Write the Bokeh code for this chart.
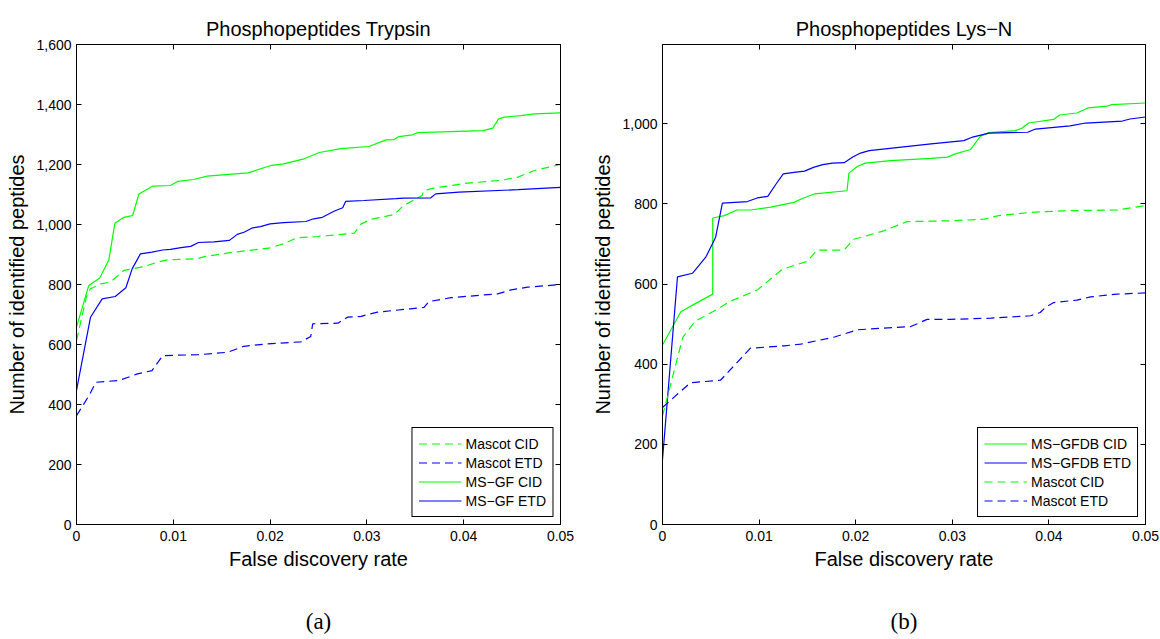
from bokeh.plotting import figure
from bokeh.models import Range1d, FixedTicker, NumeralTickFormatter, LinearAxis, Legend, LegendItem
from bokeh.layouts import row
from bokeh.embed import file_html
from bokeh.resources import INLINE

# ---------------- data ----------------
x_ticks = [0, 0.01, 0.02, 0.03, 0.04, 0.05]
x_tick_labels = ["0", "0.01", "0.02", "0.03", "0.04", "0.05"]
y_ticks_a = [0, 200, 400, 600, 800, 1000, 1200, 1400, 1600]
y_ticks_b = [0, 200, 400, 600, 800, 1000]

# (a) Trypsin
a_msgf_cid_x = [0, 0.00127, 0.0024, 0.00334, 0.00396, 0.0049, 0.0058, 0.00645, 0.0079, 0.0097, 0.0105,
                0.0121, 0.0135, 0.0177, 0.02, 0.0214, 0.0235, 0.0251, 0.0273, 0.0302, 0.032, 0.0328,
                0.0333, 0.0347, 0.0352, 0.042, 0.043, 0.0436, 0.0442, 0.0459, 0.0473, 0.05]
a_msgf_cid_y = [658, 797, 822, 882, 1004, 1024, 1030, 1102, 1128, 1130, 1144,
                1150, 1161, 1172, 1196, 1202, 1219, 1240, 1253, 1260, 1282, 1283,
                1293, 1299, 1306, 1313, 1321, 1352, 1358, 1363, 1369, 1372]

a_msgf_etd_x = [0, 0.00145, 0.00265, 0.004, 0.0051, 0.00575, 0.0066, 0.0078, 0.0089, 0.0097, 0.0108,
                0.0118, 0.0126, 0.0142, 0.0158, 0.0166, 0.0173, 0.0182, 0.019, 0.02, 0.0214, 0.0237,
                0.0245, 0.0254, 0.0266, 0.0275, 0.0278, 0.0297, 0.033, 0.0338, 0.0366, 0.0371,
                0.0395, 0.0456, 0.05]
a_msgf_etd_y = [447, 691, 752, 760, 789, 852, 902, 908, 915, 917, 923,
                927, 940, 942, 947, 967, 974, 989, 993, 1002, 1006, 1010,
                1019, 1024, 1044, 1056, 1077, 1080, 1086, 1088, 1089, 1102,
                1108, 1116, 1124]

a_mascot_cid_x = [0, 0.0011, 0.00145, 0.0025, 0.0035, 0.0049, 0.00575, 0.007, 0.0083, 0.0094, 0.0125,
                  0.0132, 0.0159, 0.02, 0.0214, 0.0228, 0.0249, 0.0287, 0.0294, 0.0304, 0.0328,
                  0.0338, 0.0357, 0.0359, 0.037, 0.0404, 0.0438, 0.0456, 0.0473, 0.05]
a_mascot_cid_y = [613, 769, 786, 802, 808, 847, 852, 860, 874, 882, 886,
                  893, 906, 922, 936, 956, 960, 971, 1002, 1017, 1033,
                  1063, 1097, 1113, 1122, 1138, 1147, 1158, 1180, 1200]

a_mascot_etd_x = [0, 0.0013, 0.002, 0.0044, 0.0063, 0.0078, 0.0089, 0.0126, 0.0156, 0.0173, 0.0197,
                  0.0232, 0.0242, 0.0244, 0.027, 0.028, 0.0294, 0.0311, 0.0345, 0.0359, 0.0364,
                  0.0387, 0.0435, 0.0449, 0.0466, 0.05]
a_mascot_etd_y = [363, 430, 474, 480, 502, 513, 563, 566, 574, 594, 602,
                  609, 627, 669, 671, 691, 694, 708, 719, 724, 743,
                  756, 769, 782, 791, 800]

# (b) Lys-N
b_msgfdb_cid_x = [0, 0.0019, 0.0033, 0.0052, 0.0052, 0.0064, 0.0077, 0.0091, 0.0112, 0.0136, 0.0146,
                  0.0157, 0.0191, 0.0193, 0.0202, 0.021, 0.0236, 0.0278, 0.0295, 0.0303, 0.0319,
                  0.0329, 0.0338, 0.0365, 0.0372, 0.0379, 0.0405, 0.0411, 0.0429, 0.0441, 0.046,
                  0.0465, 0.05]
b_msgfdb_cid_y = [448, 531, 550, 575, 765, 771, 785, 785, 792, 804, 815,
                  825, 833, 877, 894, 902, 908, 914, 917, 925, 936,
                  969, 978, 983, 989, 1002, 1011, 1022, 1027, 1040, 1044,
                  1048, 1052]

b_msgfdb_etd_x = [0, 0.00155, 0.0031, 0.0045, 0.0055, 0.0062, 0.0088, 0.0098, 0.0109, 0.0117, 0.0125,
                  0.0136, 0.0147, 0.0157, 0.0166, 0.0176, 0.0188, 0.0197, 0.0205, 0.0214, 0.0278,
                  0.0312, 0.0321, 0.0338, 0.0378, 0.0386, 0.0422, 0.0438, 0.0476, 0.0484, 0.05]
b_msgfdb_etd_y = [162, 618, 627, 668, 717, 802, 806, 815, 819, 848, 875,
                  879, 882, 892, 898, 902, 903, 917, 927, 933, 950,
                  958, 967, 977, 979, 987, 995, 1002, 1007, 1012, 1017]

b_mascot_cid_x = [0, 0.0021, 0.0034, 0.0052, 0.0071, 0.0098, 0.0124, 0.015, 0.016, 0.0188, 0.0198,
                  0.0212, 0.0229, 0.0253, 0.0298, 0.0333, 0.0348, 0.0381, 0.0415, 0.0471, 0.05]
b_mascot_cid_y = [271, 467, 508, 531, 558, 585, 637, 657, 685, 685, 712,
                  721, 733, 756, 758, 762, 771, 779, 783, 785, 796]

b_mascot_etd_x = [0, 0.0019, 0.0029, 0.006, 0.0091, 0.0126, 0.0143, 0.0178, 0.0202, 0.0229, 0.0257,
                  0.0274, 0.0298, 0.034, 0.0381, 0.0391, 0.0397, 0.0405, 0.0429, 0.0443, 0.047, 0.05]
b_mascot_etd_y = [292, 333, 354, 360, 440, 446, 450, 468, 486, 490, 494,
                  512, 512, 515, 521, 529, 543, 554, 560, 568, 575, 578]

# ---------------- styling ----------------
FONT = "Liberation Sans"
GREEN = "#00ff00"
BLUE = "#0000ff"
DASH = "8 5"
LW = 1.2


def style_axis(ax, show_labels=True):
    ax.axis_line_color = "black"
    ax.axis_line_width = 1
    ax.major_tick_in = 5
    ax.major_tick_out = 0
    ax.major_tick_line_color = "black"
    ax.minor_tick_line_color = None
    if show_labels:
        ax.major_label_text_font = FONT
        ax.major_label_text_font_size = "14px"
        ax.major_label_text_color = "black"
        ax.major_label_standoff = 5
    else:
        ax.major_label_text_font_size = "1px"
        ax.major_label_text_color = None
        ax.major_label_standoff = 0


def make_fig(title, caption, ymax, yticks, bl, br, width):
    p = figure(width=width, height=639, output_backend="svg", toolbar_location=None,
               x_range=Range1d(0, 0.05), y_range=Range1d(0, ymax), title=title,
               min_border_left=bl, min_border_right=br, min_border_top=44, min_border_bottom=115)
    p.title.align = "center"
    p.title.text_font = FONT
    p.title.text_font_size = "20px"
    p.title.text_font_style = "normal"
    p.title.text_color = "black"
    p.grid.visible = False
    p.outline_line_color = "black"
    p.outline_line_width = 1
    p.outline_line_alpha = 1
    p.background_fill_color = "white"
    p.border_fill_color = "white"

    p.xaxis.ticker = FixedTicker(ticks=x_ticks)
    p.xaxis.major_label_overrides = {t: l for t, l in zip(x_ticks, x_tick_labels)}
    p.yaxis.ticker = FixedTicker(ticks=yticks)
    p.yaxis.formatter = NumeralTickFormatter(format="0,0")
    for ax in p.xaxis + p.yaxis:
        style_axis(ax)
    p.xaxis.major_label_standoff = 6
    p.xaxis.axis_label = "False discovery rate"
    p.yaxis.axis_label = "Number of identified peptides"
    for ax in p.xaxis + p.yaxis:
        ax.axis_label_text_font = FONT
        ax.axis_label_text_font_size = "20px"
        ax.axis_label_text_font_style = "normal"
        ax.axis_label_text_color = "black"
    p.xaxis.axis_label_standoff = 4
    p.yaxis.axis_label_standoff = 5

    top = LinearAxis(ticker=FixedTicker(ticks=x_ticks))
    style_axis(top, show_labels=False)
    p.add_layout(top, "above")
    right = LinearAxis(ticker=FixedTicker(ticks=yticks))
    style_axis(right, show_labels=False)
    p.add_layout(right, "right")

    # caption "(a)" / "(b)" as the label of a bare axis stacked under the x axis
    cap = LinearAxis(ticker=FixedTicker(ticks=[]), axis_label=caption)
    cap.axis_line_color = None
    cap.major_tick_line_color = None
    cap.minor_tick_line_color = None
    cap.major_tick_in = 0
    cap.major_tick_out = 0
    cap.major_label_text_font_size = "1px"
    cap.major_label_text_color = None
    cap.major_label_standoff = 0
    cap.axis_label_text_font = "Liberation Serif"
    cap.axis_label_text_font_size = "23px"
    cap.axis_label_text_font_style = "normal"
    cap.axis_label_text_color = "black"
    cap.axis_label_standoff = 36
    p.add_layout(cap, "below")
    return p


def add_legend(p, items):
    leg = Legend(items=items, location="bottom_right")
    leg.border_line_color = "black"
    leg.border_line_width = 1
    leg.border_line_alpha = 1
    leg.background_fill_color = "white"
    leg.background_fill_alpha = 1
    leg.label_text_font = FONT
    leg.label_text_font_size = "14px"
    leg.label_text_color = "black"
    leg.glyph_width = 43
    leg.glyph_height = 19
    leg.label_height = 19
    leg.spacing = 0
    leg.padding = 6
    leg.margin = 7
    leg.label_standoff = 4
    p.add_layout(leg)


# (a)
pa = make_fig("Phosphopeptides Trypsin", "(a)", 1600, y_ticks_a, 76, 20, 580)
ra1 = pa.line(a_mascot_cid_x, a_mascot_cid_y, line_color=GREEN, line_width=LW, line_dash=DASH)
ra2 = pa.line(a_mascot_etd_x, a_mascot_etd_y, line_color=BLUE, line_width=LW, line_dash=DASH)
ra3 = pa.line(a_msgf_cid_x, a_msgf_cid_y, line_color=GREEN, line_width=LW)
ra4 = pa.line(a_msgf_etd_x, a_msgf_etd_y, line_color=BLUE, line_width=LW)
add_legend(pa, [LegendItem(label="Mascot CID", renderers=[ra1]),
                LegendItem(label="Mascot ETD", renderers=[ra2]),
                LegendItem(label="MS\u2212GF CID", renderers=[ra3]),
                LegendItem(label="MS\u2212GF ETD", renderers=[ra4])])

# (b)
pb = make_fig("Phosphopeptides Lys\u2212N", "(b)", 1198, y_ticks_b, 82, 15, 580)
rb1 = pb.line(b_msgfdb_cid_x, b_msgfdb_cid_y, line_color=GREEN, line_width=LW)
rb2 = pb.line(b_msgfdb_etd_x, b_msgfdb_etd_y, line_color=BLUE, line_width=LW)
rb3 = pb.line(b_mascot_cid_x, b_mascot_cid_y, line_color=GREEN, line_width=LW, line_dash=DASH)
rb4 = pb.line(b_mascot_etd_x, b_mascot_etd_y, line_color=BLUE, line_width=LW, line_dash=DASH)
add_legend(pb, [LegendItem(label="MS\u2212GFDB CID", renderers=[rb1]),
                LegendItem(label="MS\u2212GFDB ETD", renderers=[rb2]),
                LegendItem(label="Mascot CID", renderers=[rb3]),
                LegendItem(label="Mascot ETD", renderers=[rb4])])

layout = row(pa, pb)
open("out.html", "w").write(file_html(layout, INLINE))
